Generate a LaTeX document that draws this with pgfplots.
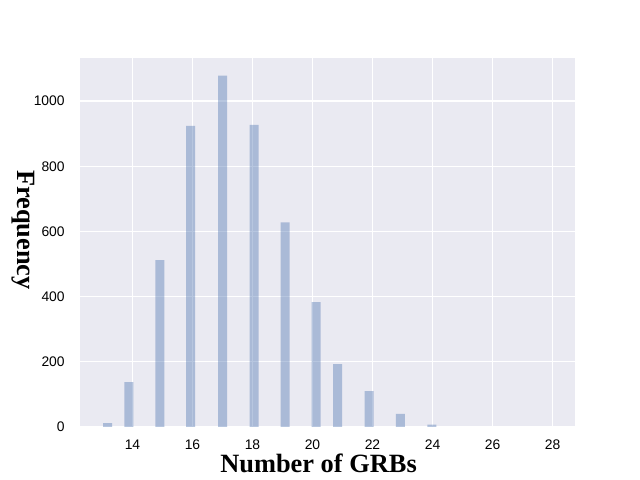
\documentclass[border=0pt]{standalone}
\usepackage{pgfplots}
\pgfplotsset{compat=1.18}
\usepackage{fontspec}
\setmainfont{Liberation Sans}
\newfontfamily\timesfont{Liberation Serif}
\definecolor{bgc}{HTML}{EAEAF2}
\definecolor{barc}{HTML}{4C72B0}
\begin{document}
\begin{tikzpicture}
\useasboundingbox (-57.6pt,-38.16pt) rectangle (403.2pt,307.44pt);
\begin{axis}[at={(0,0)}, anchor=south west, scale only axis,
  width=356.4pt, height=265.68pt,
  xmin=12.25, xmax=28.75, ymin=0, ymax=1132,
  axis background/.style={fill=bgc},
  axis line style={draw=none}, major tick length=0pt,
  grid=major, major grid style={white, line width=1pt},
  xtick={14,16,...,28}, ytick={0,200,...,1000},
  ticklabel style={font=\fontsize{10}{12}\selectfont},
  /pgf/number format/assume math mode=true,
  /pgf/number format/1000 sep={},
  xticklabel style={yshift=-6pt},
  yticklabel style={xshift=-7.5pt},
  xlabel={\timesfont\bfseries\fontsize{19}{22}\selectfont Number of GRBs},
  every axis x label/.style={at={(axis description cs:0.482,0)}, anchor=base, yshift=-33.1pt},
  ylabel={\timesfont\bfseries\fontsize{19}{22}\selectfont Frequency},
  every axis y label/.style={at={(axis description cs:-0.1146,0.534)}, anchor=center, rotate=-90},
]
\addplot[ybar, bar width=0.3, fill=barc, fill opacity=0.4, draw=none] coordinates {
(13.17,12) (13.88,138) (14.91,512) (15.94,924) (17.0,1078) (18.05,927)
(19.09,628) (20.12,383) (20.84,193) (21.89,110) (22.93,40) (23.98,7)
};
\end{axis}
\end{tikzpicture}
\end{document}
